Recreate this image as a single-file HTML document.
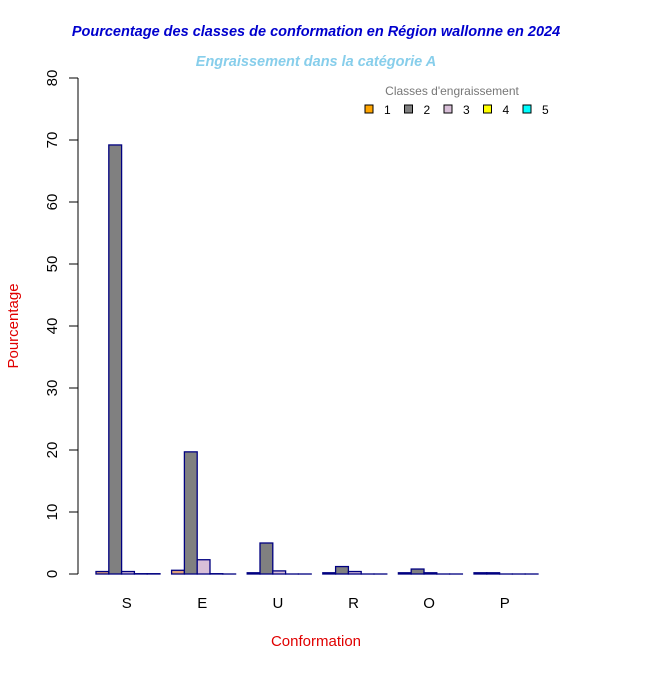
<!DOCTYPE html>
<html><head><meta charset="utf-8"><style>
body{margin:0;background:#fff;}
svg text{font-family:"Liberation Sans",Arial,sans-serif;}
</style></head><body>
<svg id="chart" width="672" height="671" xmlns="http://www.w3.org/2000/svg">
<rect width="672" height="671" fill="#fff"/>
<text x="316" y="36" text-anchor="middle" font-size="14.5" font-weight="bold" font-style="italic" fill="#0000CD">Pourcentage des classes de conformation en Région wallonne en 2024</text>
<text x="316" y="66" text-anchor="middle" font-size="14.5" font-weight="bold" font-style="italic" fill="#87CEEB">Engraissement dans la catégorie A</text>
<text transform="translate(18,326) rotate(-90)" text-anchor="middle" font-size="15" fill="#E00000">Pourcentage</text>
<text x="316" y="646" text-anchor="middle" font-size="15" fill="#E00000">Conformation</text>
<g id="yaxis"></g>
<g id="bars"></g>
<g id="xlabels"></g>
<g id="legend">
<text x="452" y="95" text-anchor="middle" font-size="12" fill="#777">Classes d'engraissement</text>
</g>
</svg>
<script>
const categories=["S","E","U","R","O","P"];
const seriesNames=["1","2","3","4","5"];
const class1=[0.4,0.6,0.2,0.2,0.2,0.2];
const class2=[69.2,19.7,5.0,1.2,0.8,0.2];
const class3=[0.4,2.3,0.5,0.4,0.2,0.0];
const class4=[0.05,0.05,0.0,0.0,0.0,0.0];
const class5=[0.05,0.0,0.0,0.0,0.0,0.0];
const yTicks=[0,10,20,30,40,50,60,70,80];
const series=[class1,class2,class3,class4,class5];
const fills=["#DDA07A","#808080","#D8BFD8","#FFFF00","#00FFFF"];
const legendFills=["#FFA500","#808080","#D8BFD8","#FFFF00","#00FFFF"];
const NS="http://www.w3.org/2000/svg";
const y0=574,pxPer=6.2;
const y=v=>y0-v*pxPer;
const groupX=i=>96+i*75.6;
const bw=12.8;
function mk(t,a,p){const e=document.createElementNS(NS,t);for(const k in a)e.setAttribute(k,a[k]);p.appendChild(e);return e;}
const ya=document.getElementById('yaxis');
const ax=mk('line',{x1:78,x2:78,y1:y(yTicks[0]),y2:y(yTicks[yTicks.length-1]),stroke:'#000'},ya);


yTicks.forEach(t=>{
 const l=mk('line',{x1:69,x2:78,y1:y(t),y2:y(t),stroke:'#000'},ya);
 
 
 const tx=mk('text',{transform:`translate(57,${y(t)}) rotate(-90)`,'text-anchor':'middle','font-size':15},ya);
 tx.textContent=t;
 
 
});
const bg=document.getElementById('bars');
categories.forEach((c,i)=>{
 series.forEach((s,j)=>{
  const v=s[i];
  const r=mk('rect',{x:groupX(i)+j*bw,y:y(v),width:bw,height:Math.max(v*pxPer,0.01),fill:fills[j],stroke:'#000080','stroke-width':1.3},bg);
  
  
 });
 const t=mk('text',{x:groupX(i)+2.4*bw,y:608,'text-anchor':'middle','font-size':15},document.getElementById('xlabels'));
 t.textContent=c;
 
 
});
const lg=document.getElementById('legend');
seriesNames.forEach((n,j)=>{
 const x=365+j*39.5;
 const r=mk('rect',{x:x,y:105,width:8,height:8,fill:legendFills[j],stroke:'#000'},lg);
 
 
 const t=mk('text',{x:x+19,y:114,'font-size':12},lg);
 t.textContent=n;
 
 
});
</script>
</body></html>
